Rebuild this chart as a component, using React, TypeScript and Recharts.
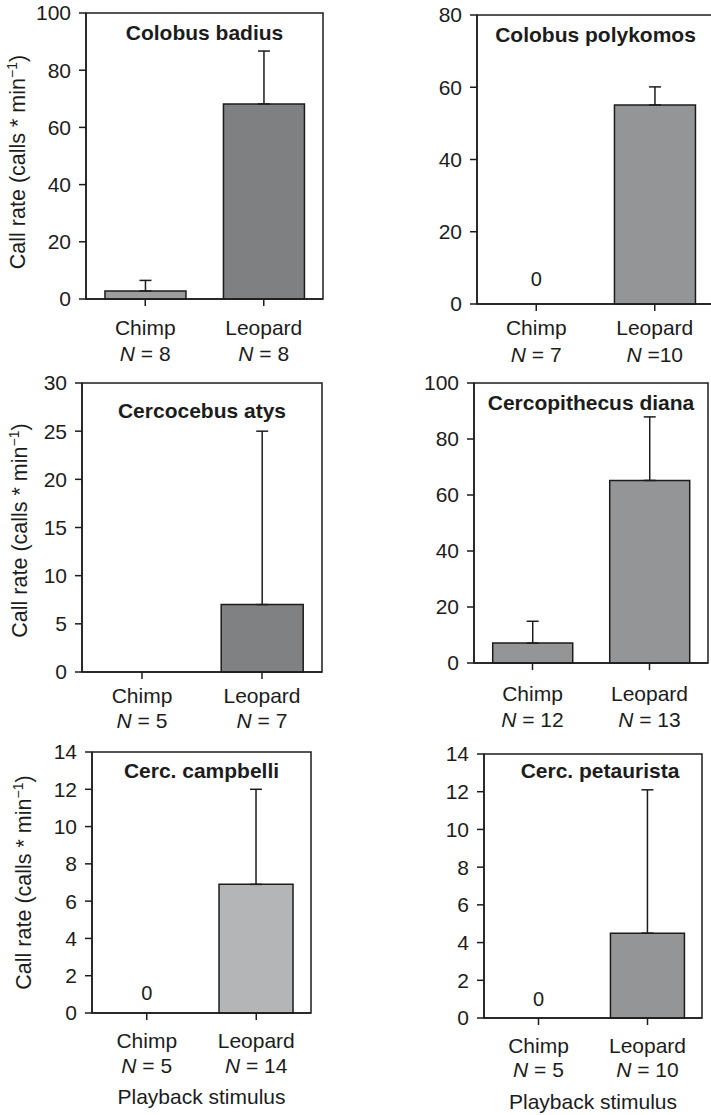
import React from 'react';
import { BarChart, Bar, XAxis, YAxis, ErrorBar, Cell, ReferenceArea, ReferenceDot } from 'recharts';

const FONT = '"Liberation Sans", Arial, Helvetica, sans-serif';
const INK = '#1c1c1c';

const categories = ['Chimp', 'Leopard'];

// Panel 1 – Colobus badius
const p1Title = 'Colobus badius';
const p1Means = [2.8, 68.2];
const p1Errors: (number | null)[] = [3.7, 18.5];
const p1N = ['= 8', '= 8'];
const p1Zero: (string | null)[] = [null, null];
const p1Colors = ['#9c9d9f', '#7f8082'];
const p1Ticks = [0, 20, 40, 60, 80, 100];

// Panel 2 – Colobus polykomos
const p2Title = 'Colobus polykomos';
const p2Means = [0, 55.1];
const p2Errors: (number | null)[] = [null, 5.0];
const p2N = ['= 7', '=10'];
const p2Zero: (string | null)[] = ['0', null];
const p2Colors = ['#949597', '#949597'];
const p2Ticks = [0, 20, 40, 60, 80];

// Panel 3 – Cercocebus atys
const p3Title = 'Cercocebus atys';
const p3Means = [0, 7.0];
const p3Errors: (number | null)[] = [null, 18.0];
const p3N = ['= 5', '= 7'];
const p3Zero: (string | null)[] = [null, null];
const p3Colors = ['#808183', '#808183'];
const p3Ticks = [0, 5, 10, 15, 20, 25, 30];

// Panel 4 – Cercopithecus diana
const p4Title = 'Cercopithecus diana';
const p4Means = [7.1, 65.2];
const p4Errors: (number | null)[] = [7.8, 22.7];
const p4N = ['= 12', '= 13'];
const p4Zero: (string | null)[] = [null, null];
const p4Colors = ['#949597', '#949597'];
const p4Ticks = [0, 20, 40, 60, 80, 100];

// Panel 5 – Cerc. campbelli
const p5Title = 'Cerc. campbelli';
const p5Means = [0, 6.9];
const p5Errors: (number | null)[] = [null, 5.1];
const p5N = ['= 5', '= 14'];
const p5Zero: (string | null)[] = ['0', null];
const p5Colors = ['#b4b5b7', '#b4b5b7'];
const p5Ticks = [0, 2, 4, 6, 8, 10, 12, 14];

// Panel 6 – Cerc. petaurista
const p6Title = 'Cerc. petaurista';
const p6Means = [0, 4.5];
const p6Errors: (number | null)[] = [null, 7.6];
const p6N = ['= 5', '= 10'];
const p6Zero: (string | null)[] = ['0', null];
const p6Colors = ['#949597', '#949597'];
const p6Ticks = [0, 2, 4, 6, 8, 10, 12, 14];

const yAxisTitle = 'Call rate (calls * min';
const xAxisTitle = 'Playback stimulus';

function buildData(means: number[], errors: (number | null)[], zero: (string | null)[]) {
  return categories.map((name, i) => ({
    name,
    value: means[i],
    err: errors[i] == null ? null : [0, errors[i] as number],
    zero: zero[i],
  }));
}

type PanelProps = {
  left: number; top: number; width: number; height: number;
  margin: { top: number; right: number; bottom: number; left: number };
  yWidth: number; xHeight: number;
  ticks: number[];
  title: string; titleDy: number; titleDx?: number;
  data: any[]; colors: string[]; nLabels: string[];
  lines: [number, number];
  showYLabel?: boolean; yLabelX?: number; yLabelDy?: number;
  showXLabel?: boolean; xLabelDy?: number;
  zeroOffset?: number;
};

function Panel(p: PanelProps) {
  const max = p.ticks[p.ticks.length - 1];
  const CatTick = (props: any) => {
    const { x, y, payload, index } = props;
    return (
      <g>
        <text x={x} y={y + p.lines[0]} textAnchor="middle" fontSize={21} fill={INK} fontFamily={FONT}>
          {payload.value}
        </text>
        <text x={x} y={y + p.lines[1]} textAnchor="middle" fontSize={21} fill={INK} fontFamily={FONT}>
          <tspan fontStyle="italic">N</tspan>
          <tspan>{' ' + p.nLabels[index]}</tspan>
        </text>
      </g>
    );
  };
  const titleLabel = (props: any) => {
    const vb = props.viewBox || { x: 0, y: 0, width: 0, height: 0 };
    return (
      <text
        x={vb.x + vb.width / 2 + (p.titleDx || 0)}
        y={vb.y + p.titleDy}
        textAnchor="middle"
        fontSize={21}
        fontWeight="bold"
        fill={INK}
        fontFamily={FONT}
      >
        {p.title}
      </text>
    );
  };
  const yLabel = (props: any) => {
    const vb = props.viewBox || { x: 0, y: 0, width: 0, height: 0 };
    const bx = p.yLabelX || 25;
    const cy = vb.y + vb.height / 2 + (p.yLabelDy || 0);
    return (
      <text
        x={bx}
        y={cy}
        transform={`rotate(-90, ${bx}, ${cy})`}
        textAnchor="middle"
        fontSize={21.5}
        fill={INK}
        fontFamily={FONT}
      >
        <tspan>{yAxisTitle}</tspan>
        <tspan dy={-8} fontSize={14}>−1</tspan>
        <tspan dy={8}>)</tspan>
      </text>
    );
  };
  const xLabel = (props: any) => {
    const vb = props.viewBox || { x: 0, y: 0, width: 0, height: 0 };
    return (
      <text
        x={vb.x + vb.width / 2}
        y={vb.y + (p.xLabelDy || 91)}
        textAnchor="middle"
        fontSize={21}
        fill={INK}
        fontFamily={FONT}
      >
        {xAxisTitle}
      </text>
    );
  };

  return (
    <div style={{ position: 'absolute', left: p.left, top: p.top }}>
      <BarChart
        width={p.width}
        height={p.height}
        data={p.data}
        margin={p.margin}
        barCategoryGap="16%"
        style={{ fontFamily: FONT }}
      >
        <XAxis
          dataKey="name"
          height={p.xHeight}
          axisLine={{ stroke: INK, strokeWidth: 1.5 }}
          tickLine={{ stroke: INK, strokeWidth: 1.5 }}
          tickSize={7}
          tickMargin={0}
          interval={0}
          tick={<CatTick />}
          label={p.showXLabel ? xLabel : undefined}
        />
        <YAxis
          width={p.yWidth}
          domain={[0, max]}
          ticks={p.ticks}
          interval={0}
          allowDecimals={false}
          axisLine={{ stroke: INK, strokeWidth: 1.5 }}
          tickLine={{ stroke: INK, strokeWidth: 1.5 }}
          tickSize={7}
          tickMargin={8}
          tick={{ fontSize: 21, fill: INK, fontFamily: FONT }}
          label={p.showYLabel ? yLabel : undefined}
        />
        <Bar dataKey="value" stroke={INK} strokeWidth={1.5} isAnimationActive={false}>
          {p.data.map((_d, i) => (
            <Cell key={i} fill={p.colors[i]} />
          ))}
          <ErrorBar dataKey="err" direction="y" width={6} stroke={INK} strokeWidth={1.5} isAnimationActive={false} />
        </Bar>
        <ReferenceArea
          y1={0}
          y2={max}
          fill="none"
          fillOpacity={0}
          stroke={INK}
          strokeWidth={1.5}
          label={titleLabel}
        />
        {p.data
          .filter((d) => d.zero != null)
          .map((d) => (
            <ReferenceDot
              key={d.name}
              x={d.name}
              y={0}
              r={1}
              fill="none"
              stroke="none"
              label={{
                value: d.zero,
                position: 'top',
                offset: p.zeroOffset || 14,
                fontSize: 20,
                fill: INK,
                fontFamily: FONT,
              }}
            />
          ))}
      </BarChart>
    </div>
  );
}

export default function App() {
  return (
    <div
      style={{
        position: 'absolute',
        left: 0,
        top: 0,
        width: 711,
        height: 1115,
        overflow: 'hidden',
        background: '#fff',
        fontFamily: FONT,
      }}
    >
      <Panel
        left={0} top={0} width={355} height={372}
        margin={{ top: 13, right: 32, bottom: 0, left: 0 }}
        yWidth={86} xHeight={73}
        ticks={p1Ticks} title={p1Title} titleDy={27.4}
        data={buildData(p1Means, p1Errors, p1Zero)} colors={p1Colors} nLabels={p1N}
        lines={[29, 55]}
        showYLabel yLabelX={25} yLabelDy={6}
      />
      <Panel
        left={355} top={0} width={362} height={372}
        margin={{ top: 15, right: 3, bottom: 0, left: 0 }}
        yWidth={122} xHeight={68}
        ticks={p2Ticks} title={p2Title} titleDy={27.4}
        data={buildData(p2Means, p2Errors, p2Zero)} colors={p2Colors} nLabels={p2N}
        lines={[24, 51]}
        zeroOffset={17}
      />
      <Panel
        left={0} top={362} width={355} height={372}
        margin={{ top: 21, right: 33, bottom: 0, left: 0 }}
        yWidth={82} xHeight={62}
        ticks={p3Ticks} title={p3Title} titleDy={35}
        data={buildData(p3Means, p3Errors, p3Zero)} colors={p3Colors} nLabels={p3N}
        lines={[24, 49]}
        showYLabel yLabelX={27} yLabelDy={3}
      />
      <Panel
        left={355} top={362} width={356} height={372}
        margin={{ top: 21, right: 3, bottom: 0, left: 0 }}
        yWidth={119} xHeight={71}
        ticks={p4Ticks} title={p4Title} titleDy={26.6}
        data={buildData(p4Means, p4Errors, p4Zero)} colors={p4Colors} nLabels={p4N}
        lines={[31, 57]}
      />
      <Panel
        left={0} top={722} width={355} height={393}
        margin={{ top: 30, right: 44, bottom: 0, left: 0 }}
        yWidth={92} xHeight={102}
        ticks={p5Ticks} title={p5Title} titleDy={26}
        data={buildData(p5Means, p5Errors, p5Zero)} colors={p5Colors} nLabels={p5N}
        lines={[28, 53]}
        showYLabel yLabelX={31} yLabelDy={0}
        showXLabel xLabelDy={91}
        zeroOffset={12}
      />
      <Panel
        left={355} top={722} width={356} height={393}
        margin={{ top: 32, right: 9, bottom: 0, left: 0 }}
        yWidth={129} xHeight={97}
        ticks={p6Ticks} title={p6Title} titleDy={24.3} titleDx={7}
        data={buildData(p6Means, p6Errors, p6Zero)} colors={p6Colors} nLabels={p6N}
        lines={[28, 52]}
        showXLabel xLabelDy={91}
        zeroOffset={11}
      />
    </div>
  );
}
